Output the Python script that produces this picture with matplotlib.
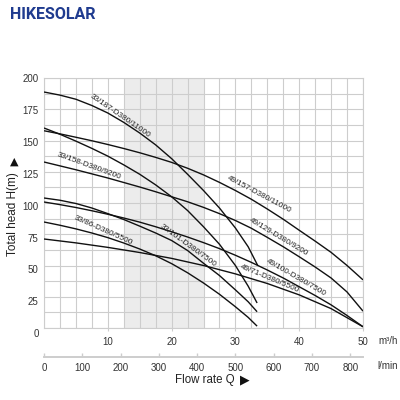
import matplotlib
matplotlib.use("Agg")
import matplotlib.pyplot as plt
import numpy as np

plt.rcParams['font.family'] = ['Liberation Sans', 'DejaVu Sans']

# ---- data (Q in m3/h, H in m) ----
q_33_187 = [0, 2.5, 5, 7.5, 10, 12.5, 15, 17.5, 20, 22.5, 25, 27.5, 30, 32, 33.5]
h_33_187 = [188.8, 186.3, 183, 178, 172, 164.5, 156, 146.5, 135.5, 123, 110, 96, 80, 65, 50]

q_33_158 = [0, 2.5, 5, 7.5, 10, 12.5, 15, 17.5, 20, 22.5, 25, 27.5, 30, 32, 33.4]
h_33_158 = [160, 155, 149.5, 143.7, 137.5, 130.5, 123, 114.5, 105, 94, 81, 67, 50, 33.5, 20]

q_33_101 = [0, 2.5, 5, 7.5, 10, 12.5, 15, 17.5, 20, 22.5, 25, 27.5, 30, 32, 33.4]
h_33_101 = [104, 102.2, 99.6, 96, 91.5, 86.8, 81.5, 76, 70, 62, 51.8, 42, 30.5, 21, 13]

q_33_86 = [0, 2.5, 5, 7.5, 10, 12.5, 15, 17.5, 20, 22.5, 25, 27.5, 30, 32, 33.4]
h_33_86 = [84.8, 82.2, 79.3, 76, 72.3, 68, 63.2, 57.8, 51.5, 44.2, 36, 27, 17, 8.5, 1.5]

q_49_157 = [0, 2.5, 5, 7.5, 10, 12.5, 15, 17.5, 20, 22.5, 25, 27.5, 30, 32.5, 35,
            37.5, 40, 42.5, 45, 47.5, 50]
h_49_157 = [157.8, 155.3, 152.6, 149.8, 146.8, 143.6, 140.2, 136.5, 132.5, 127.8, 122.5,
            116.5, 110, 103, 95.2, 87, 78.2, 69.5, 60.5, 50, 38.5]

q_49_129 = [0, 5, 10, 15, 17.5, 20, 22.5, 25, 27.5, 30, 32.5, 35, 37.5, 40, 42.5, 45,
            47.5, 50]
h_49_129 = [132.8, 126.6, 120, 112.8, 109, 105, 101, 96.5, 91.5, 86, 79.8, 72.5, 65,
            57, 48.8, 40, 28.8, 13.5]

q_49_100 = [0, 2.5, 5, 7.5, 10, 12.5, 15, 17.5, 20, 22.5, 25, 27.5, 30, 32.5, 35,
            37.5, 40, 42.5, 45, 47.5, 50]
h_49_100 = [100.8, 98.7, 96.4, 93.8, 91, 88, 84.7, 81, 77, 72.8, 68.3, 63.5, 58.2,
            52.5, 46.4, 40, 33, 26, 18.5, 10, 1]

q_49_71 = [0, 5, 10, 15, 20, 25, 30, 35, 40, 45, 50]
h_49_71 = [71.2, 68.1, 64.5, 60.4, 55.7, 50, 43.3, 35.6, 26.5, 15.5, 1]

curves = [
    (q_33_187, h_33_187, "33/187-D380/11000", (12.0, 169.5), -34.5),
    (q_33_158, h_33_158, "33/158-D380/9200", (7.1, 129.8), -20),
    (q_33_86, h_33_86, "33/86-D380/5500", (9.3, 78.3), -24),
    (q_33_101, h_33_101, "33/101-D380/7500", (22.6, 66.0), -36),
    (q_49_157, h_49_157, "49/157-D380/11000", (33.7, 106.5), -28),
    (q_49_129, h_49_129, "49/129-D380/9200", (36.7, 72.5), -31),
    (q_49_100, h_49_100, "49/100-D380/7500", (39.5, 40.5), -30),
    (q_49_71, h_49_71, "49/71-D380/5500", (35.4, 39.5), -22.6),
]

y_tick_values = [0, 25, 50, 75, 100, 125, 150, 175, 200]
x_tick_values = [10, 20, 30, 40, 50]
lmin_tick_values = [0, 100, 200, 300, 400, 500, 600, 700, 800]

GRID = '#cdcdcd'
TXT = '#333333'

fig = plt.figure(figsize=(4, 4), dpi=100)
ax = fig.add_axes([0.11, 0.18, 0.7975, 0.625])
ax.set_xlim(0, 50)
ax.set_ylim(0, 200)

ax.axvspan(12.5, 25, color='#ececec', zorder=0, lw=0)

ax.set_xticks(x_tick_values)
ax.set_xticklabels([str(v) for v in x_tick_values])
ax.set_xticks(np.arange(0, 50.01, 2.5), minor=True)
ax.set_yticks([])
ax.set_yticks(np.arange(0, 200.01, 12.5), minor=True)
ax.grid(True, which='both', color=GRID, lw=0.8, zorder=1)
ax.set_axisbelow(True)
ax.tick_params(axis='x', which='major', length=2.2, color=GRID, labelsize=7,
               labelcolor=TXT, pad=4.2)
ax.tick_params(axis='both', which='minor', length=0)
ax.tick_params(axis='y', which='both', length=0, labelleft=False)
for s in ax.spines.values():
    s.set_color(GRID)
    s.set_linewidth(0.8)

# y tick labels (placed like the reference, slightly drifting from the grid)
ytr = ax.get_yaxis_transform()
for v in y_tick_values:
    ax.text(-0.017, v * 1.0208 - 4.96, str(v), transform=ytr, ha='right',
            va='center', fontsize=7, color=TXT, clip_on=False)

for q, h, lab, pos, rot in curves:
    ax.plot(q, h, color='#111111', lw=1.0, zorder=3, solid_capstyle='butt',
            solid_joinstyle='round')
    ax.text(pos[0], pos[1], lab, fontsize=5.9, color='#222222', rotation=rot,
            ha='center', va='center', rotation_mode='anchor', zorder=4)

# secondary l/min axis
sec = ax.secondary_xaxis(-0.116, functions=(lambda x: x * 1000.0 / 60.0,
                                            lambda x: x * 60.0 / 1000.0))
sec.set_xticks(lmin_tick_values)
sec.set_xticklabels([str(v) for v in lmin_tick_values])
sec.spines['bottom'].set_color(GRID)
sec.spines['bottom'].set_linewidth(1.4)
sec.tick_params(axis='x', direction='in', length=3, width=1, color=GRID,
                labelsize=7, labelcolor=TXT, pad=4)

fig.text(378 / 400, 1 - 341 / 400, 'm³/h', ha='left', va='center', fontsize=7, color=TXT)
fig.text(377 / 400, 1 - 366 / 400, 'l/min', ha='left', va='center', fontsize=7, color=TXT)

fig.text(175 / 400, 1 - 380 / 400, 'Flow rate Q', ha='left', va='center', fontsize=8.3, color='#222222')
fig.text(245 / 400, 1 - 380 / 400, '▶', ha='center', va='center', fontsize=9,
         color='#111111', family='DejaVu Sans')

fig.text(13.5 / 400, 1 - 214.5 / 400, 'Total head H(m)', rotation=90, ha='center',
         va='center', fontsize=8.5, color='#222222')
fig.text(14 / 400, 1 - 162 / 400, '▲', ha='center', va='center', fontsize=8,
         color='#111111', family='DejaVu Sans')

fig.text(10 / 400, 1 - 14.5 / 400, 'HIKESOLAR', ha='left', va='center', fontsize=11.5,
         fontweight='bold', color='#1f3b8f', family=['Roboto', 'DejaVu Sans'])

fig.savefig('out.png', dpi=100)
